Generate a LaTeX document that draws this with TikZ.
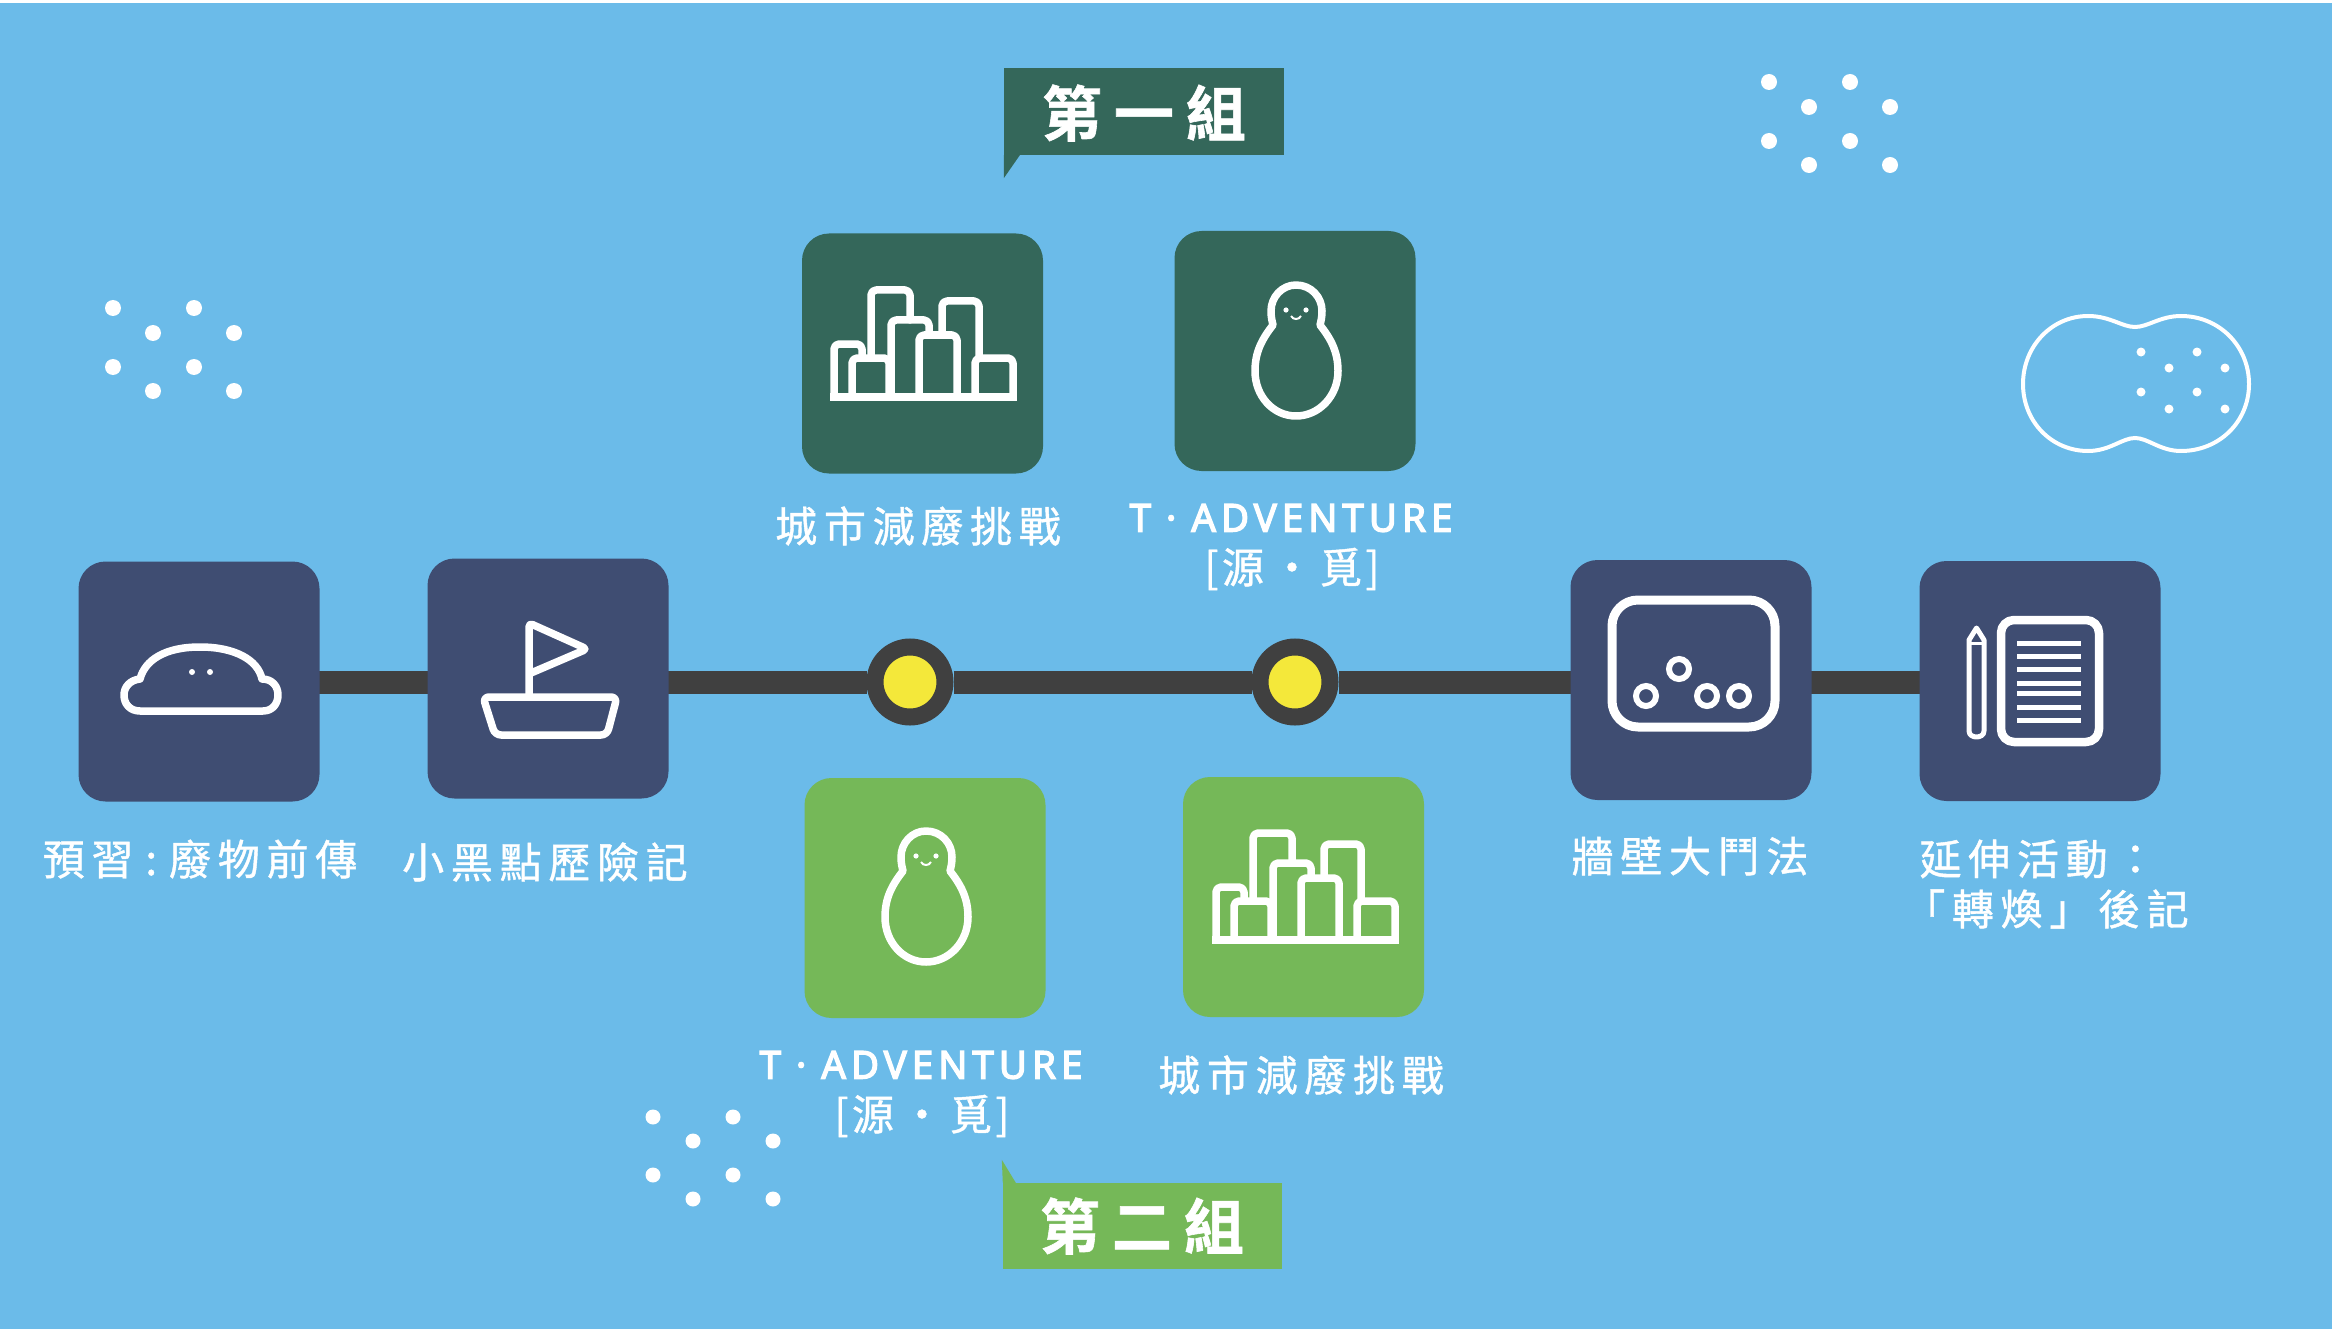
\documentclass[tikz,border=0pt]{standalone}
\usepackage{fontspec}
\usetikzlibrary{backgrounds}
\newfontfamily\labfont[LetterSpace=16,FakeBold=1.0]{Noto Sans CJK TC}
\newfontfamily\latfont[LetterSpace=13,FakeBold=3.5]{Noto Sans}
\newfontfamily\brkfont[LetterSpace=8,FakeBold=1.0]{Noto Sans CJK TC}
\newfontfamily\grpfont[LetterSpace=20,BoldFont={Noto Sans CJK TC Bold},BoldFeatures={FakeBold=1.0}]{Noto Sans CJK TC}
\definecolor{skyb}{HTML}{6BBBE9}
\definecolor{navyb}{HTML}{3F4D72}
\definecolor{darkg}{HTML}{34675A}
\definecolor{lightg}{HTML}{75B858}
\definecolor{trackc}{HTML}{404040}
\definecolor{yelc}{HTML}{F4E83A}
\tikzset{
 card/.style={rectangle,rounded corners=27pt,minimum width=241pt,minimum height=240pt,inner sep=0pt,draw=none},
 navycard/.style={card,fill=navyb},
 darkcard/.style={card,fill=darkg},
 greencard/.style={card,fill=lightg},
 lab/.style={text=white,inner sep=0pt,font=\fontsize{42}{48}\selectfont\labfont},
 latlab/.style={text=white,inner sep=0pt,font=\fontsize{38.5}{44}\selectfont\latfont},
 brklab/.style={text=white,inner sep=0pt,font=\fontsize{42}{48}\selectfont\brkfont},
 grplab/.style={text=white,inner sep=0pt,font=\fontsize{60}{66}\selectfont\grpfont\bfseries},
 icon/.style={draw=white,line width=7.5pt,line join=round,line cap=round},
 thinicon/.style={draw=white,line width=5pt,line join=round,line cap=round},
 junction/.style={circle,fill=yelc,draw=trackc,line width=17pt,minimum size=70pt,inner sep=0pt},
 track/.style={draw=trackc,line width=23pt},
 speck/.style={fill=white,draw=none},
}
\newcommand{\cityicon}[2]{%
\begin{scope}[shift={(#1,#2)},icon,rounded corners=5pt]
 \draw (834,397) -- (834,344) -- (862,344) -- (862,358);
 \draw (852,397) -- (852,358) -- (889,358) -- (889,397);
 \draw (871,358) -- (871,290) -- (910,290) -- (910,320);
 \draw (891,397) -- (891,320) -- (929,320) -- (929,335);
 \draw (919,397) -- (919,335) -- (957,335) -- (957,397);
 \draw (942,335) -- (942,301) -- (979,301) -- (979,358);
 \draw (975,397) -- (975,358) -- (1013,358) -- (1013,397);
 \draw[rounded corners=0pt,line cap=butt] (830,397) -- (1017,397);
\end{scope}}
\newcommand{\personicon}[2]{%
\begin{scope}[shift={(#1,#2)}]
 \draw[icon] (1296,285) .. controls (1311,285) and (1322,297) .. (1322,311)
   .. controls (1322,317) and (1321,321) .. (1320,325)
   .. controls (1331,339) and (1338,352) .. (1338,371)
   .. controls (1338,396) and (1319,416) .. (1296,416)
   .. controls (1273,416) and (1255,396) .. (1255,371)
   .. controls (1255,352) and (1262,339) .. (1273,325)
   .. controls (1272,321) and (1271,317) .. (1271,311)
   .. controls (1271,297) and (1282,285) .. (1296,285) -- cycle;
 \fill[speck] (1286,310) circle (2.6);
 \fill[speck] (1306,310) circle (2.6);
 \draw[white,line width=2pt] (1291,316) .. controls (1293,320) and (1299,320) .. (1301,316);
\end{scope}}
\newcommand{\speckgroup}[3]{%
\foreach \px/\py in {0/0,81/0,40/25,121/25,0/59,81/59,40/83,121/83}
 \fill[speck] (#1+\px,#2+\py) circle (#3);}
\begin{document}
\begin{tikzpicture}[x=1pt,y=-1pt]
\useasboundingbox (0,0) rectangle (2332,1332);
% cards
\node[navycard] (prep) at (199,681.5) {};
\node[navycard] (boat) at (548,678.5) {};
\node[navycard] (wall) at (1691,680) {};
\node[navycard] (ext) at (2040,681) {};
\node[darkcard] (cityA) at (922.5,353.5) {};
\node[darkcard] (persA) at (1295,351) {};
\node[greencard] (persB) at (925,898) {};
\node[greencard] (cityB) at (1303.5,897) {};
\node[junction] (ja) at (910,682) {};
\node[junction] (jb) at (1295,682) {};
\begin{scope}[on background layer]
 \fill[white] (0,0) rectangle (2332,1332);
 \fill[skyb] (0,3) rectangle (2332,1329);
 \draw[track] (prep.center |- ja) -- (boat.center |- ja);
 \draw[track] (boat.center |- ja) -- (ja);
 \draw[track] (ja) -- (jb);
 \draw[track] (jb) -- (wall.center |- jb);
 \draw[track] (wall.center |- jb) -- (ext.center |- jb);
\end{scope}
% mound
\draw[icon] (140,711) -- (263,711) .. controls (273,711) and (278,703) .. (278,695)
  .. controls (278,686) and (272,679) .. (262,679)
  .. controls (258,660) and (235,647) .. (200,647)
  .. controls (165,647) and (145,660) .. (140,679)
  .. controls (130,680) and (124,687) .. (124,695)
  .. controls (124,704) and (130,711) .. (140,711) -- cycle;
\fill[speck] (192,672) circle (3);
\fill[speck] (210,672) circle (3);
% boat
\draw[icon,rounded corners=4pt] (529,695) -- (529,623) -- (587,649) -- (531,673);
\draw[icon,rounded corners=6pt] (483,697) -- (617,697) -- (607,735) -- (495,735) -- cycle;
% city and person
\cityicon{0}{0}
\cityicon{382}{543}
\personicon{0}{0}
\personicon{-370}{546}
% wall
\draw[icon,line width=9pt,rounded corners=26pt] (1612,600) rectangle (1775,727);
\foreach \cx/\cy in {1646/696,1679/669,1707/696,1739/696}
 \draw[white,line width=6pt] (\cx,\cy) circle (10);
% notes
\draw[icon,line width=8.5pt,rounded corners=13pt] (2001,620) rectangle (2099,742);
\foreach \ly in {643,656,669,683,693,707,720}
 \draw[white,line width=5pt] (2017,\ly) -- (2081,\ly);
\draw[thinicon] (1969,640) -- (1976.5,628) -- (1984,640) -- (1984,731) .. controls (1984,739) and (1969,739) .. (1969,731) -- cycle;
\draw[white,line width=3pt] (1969,643) -- (1984,643);
% callouts
\node[inner sep=0pt,minimum width=280pt,minimum height=87pt,fill=darkg] (grpA) at (1144,111.5) {};
\fill[darkg] (grpA.south west) -- ++(0,23) -- ++(16,-23) -- cycle;
\node[grplab] at (1144,113) {第一組};
\node[inner sep=0pt,minimum width=279pt,minimum height=86pt,fill=lightg] (grpB) at (1142.5,1226) {};
\fill[lightg] (grpB.north west) -- ++(-1,-23) -- ++(14,23) -- cycle;
\node[grplab] at (1142,1226) {第二組};
% labels
\node[lab] at (200,859) {預習\kern12pt:\kern12pt廢物前傳};
\node[lab] at (545,862) {小黑點歷險記};
\node[lab] at (918,526) {城市減廢挑戰};
\node[latlab] at (1291,518) {T · ADVENTURE};
\node[brklab] at (1292,569) {[源\kern7pt·\kern7pt覓]};
\node[lab] at (1690,856) {牆壁大鬥法};
\node[lab] at (2038,859) {延伸活動：};
\node[lab] at (2046,909) {「轉煥」後記};
\node[latlab] at (921,1065) {T · ADVENTURE};
\node[brklab] at (922,1116) {[源\kern7pt·\kern7pt覓]};
\node[lab] at (1301,1075) {城市減廢挑戰};
% decorative specks
\speckgroup{1769}{82}{8}
\speckgroup{113}{308}{8}
\foreach \px/\py in {653/1117,733/1117,693/1141,773/1141,653/1175,733/1175,693/1199,773/1199}
 \fill[speck] (\px,\py) circle (7.5);
% peanut
\draw[white,line width=4pt] (2135,327) .. controls (2148,327) and (2160,316) .. (2181,316)
  .. controls (2219,316) and (2249,346) .. (2249,384)
  .. controls (2249,422) and (2219,451) .. (2181,451)
  .. controls (2160,451) and (2148,438) .. (2135,438)
  .. controls (2122,438) and (2110,451) .. (2088,451)
  .. controls (2052,451) and (2023,422) .. (2023,384)
  .. controls (2023,346) and (2052,316) .. (2088,316)
  .. controls (2110,316) and (2122,327) .. (2135,327) -- cycle;
\foreach \px/\py in {2141/352,2197/352,2169/368,2225/368,2141/392,2197/392,2169/409,2225/409}
 \fill[speck] (\px,\py) circle (4.5);
\end{tikzpicture}
\end{document}
